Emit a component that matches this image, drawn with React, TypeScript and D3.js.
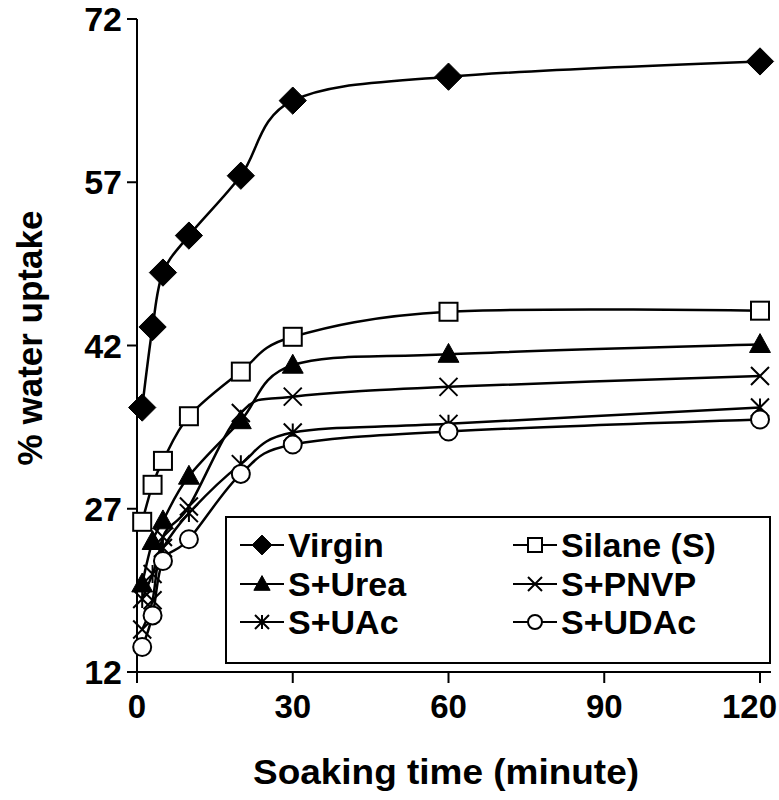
import React from "react";
import * as d3 from "d3";

const times = [1, 3, 5, 10, 20, 30, 60, 120];
const seriesNames = ["Virgin", "Silane (S)", "S+Urea", "S+PNVP", "S+UAc", "S+UDAc"];
const virgin = [36.3, 43.7, 48.7, 52.1, 57.6, 64.5, 66.7, 68.1];
const silane = [25.8, 29.2, 31.4, 35.5, 39.6, 42.8, 45.1, 45.2];
const sUrea = [20.1, 24.0, 25.9, 30.0, 35.1, 40.2, 41.2, 42.1];
const sPNVP = [15.9, 18.6, 24.4, 27.2, 35.8, 37.3, 38.2, 39.2];
const sUAc = [18.7, 21.0, 23.4, 26.6, 31.1, 34.0, 34.8, 36.3];
const sUDAc = [14.3, 17.2, 22.2, 24.2, 30.2, 32.9, 34.1, 35.2];
const markerTypes = ["diamond", "square", "triangle", "x", "asterisk", "circle"];
const xTicks = [0, 30, 60, 90, 120];
const yTicks = [12, 27, 42, 57, 72];

const allSeries = [virgin, silane, sUrea, sPNVP, sUAc, sUDAc];

const FONT = "'Liberation Sans', Arial, sans-serif";

function Marker({ type, x, y, size }: { type: string; x: number; y: number; size: number }) {
  const s = size;
  const sw = 2;
  switch (type) {
    case "diamond":
      return (
        <path
          d={`M${x},${y - s * 0.62} L${x + s * 0.62},${y} L${x},${y + s * 0.62} L${x - s * 0.62},${y} Z`}
          fill="#000"
          stroke="#000"
          strokeWidth={1}
        />
      );
    case "square":
      return (
        <rect x={x - s / 2} y={y - s / 2} width={s} height={s} fill="#fff" stroke="#000" strokeWidth={sw} />
      );
    case "triangle":
      return (
        <path
          d={`M${x},${y - s * 0.6} L${x + s * 0.58},${y + s * 0.45} L${x - s * 0.58},${y + s * 0.45} Z`}
          fill="#000"
          stroke="#000"
          strokeWidth={1}
        />
      );
    case "x":
      return (
        <path
          d={`M${x - s / 2},${y - s / 2} L${x + s / 2},${y + s / 2} M${x - s / 2},${y + s / 2} L${x + s / 2},${y - s / 2}`}
          stroke="#000"
          strokeWidth={sw}
          fill="none"
        />
      );
    case "asterisk":
      return (
        <path
          d={`M${x - s / 2},${y - s / 2} L${x + s / 2},${y + s / 2} M${x - s / 2},${y + s / 2} L${x + s / 2},${y - s / 2} M${x},${y - s / 2} L${x},${y + s / 2}`}
          stroke="#000"
          strokeWidth={sw}
          fill="none"
        />
      );
    case "circle":
      return <circle cx={x} cy={y} r={s / 2} fill="#fff" stroke="#000" strokeWidth={sw} />;
    default:
      return null;
  }
}

export default function App() {
  const W = 779;
  const H = 800;
  const x = d3.scaleLinear().domain([0, 120]).range([137, 760]);
  const y = d3.scaleLinear().domain([12, 72]).range([672, 19]);
  const line = d3
    .line<number>()
    .x((_, i) => x(times[i]))
    .y((d) => y(d))
    .curve(d3.curveCardinal.tension(0));

  const legendX = [262, 535];
  const legendY = [545, 584, 622];

  return (
    <svg width={W} height={H} style={{ position: "absolute", left: 0, top: 0, background: "#fff" }}>
      <rect x={0} y={0} width={W} height={H} fill="#fff" />
      {/* axes */}
      <line x1={x(0)} y1={y(72)} x2={x(0)} y2={672} stroke="#000" strokeWidth={2} />
      <line x1={x(0)} y1={672} x2={771} y2={672} stroke="#000" strokeWidth={2} />
      {yTicks.map((t) => (
        <g key={"yt" + t}>
          <line x1={x(0) - 10} x2={x(0)} y1={y(t)} y2={y(t)} stroke="#000" strokeWidth={2} />
          <text
            x={122}
            y={y(t)}
            dy="0.36em"
            textAnchor="end"
            fontFamily={FONT}
            fontWeight="bold"
            fontSize={34}
          >
            {t}
          </text>
        </g>
      ))}
      {xTicks.map((t, i) => {
        const last = i === xTicks.length - 1;
        return (
          <g key={"xt" + t}>
            <line x1={x(t)} x2={x(t)} y1={672} y2={683} stroke="#000" strokeWidth={2} />
            <text
              x={last ? 777 : x(t)}
              y={718}
              textAnchor={last ? "end" : "middle"}
              fontFamily={FONT}
              fontWeight="bold"
              fontSize={33}
            >
              {t}
            </text>
          </g>
        );
      })}
      <text
        x={446}
        y={784}
        textAnchor="middle"
        fontFamily={FONT}
        fontWeight="bold"
        fontSize={35}
        textLength={386}
        lengthAdjust="spacingAndGlyphs"
      >
        Soaking time (minute)
      </text>
      <text
        transform={`translate(42,338) rotate(-90)`}
        textAnchor="middle"
        fontFamily={FONT}
        fontWeight="bold"
        fontSize={35}
      >
        % water uptake
      </text>

      {/* series */}
      {allSeries.map((s, si) => (
        <g key={"s" + si}>
          <path d={line(s) || ""} fill="none" stroke="#000" strokeWidth={2.5} />
          {s.map((v, i) => (
            <Marker key={i} type={markerTypes[si]} x={x(times[i])} y={y(v)} size={si === 0 ? 22 : 18} />
          ))}
        </g>
      ))}

      {/* legend */}
      <rect x={226} y={517} width={544} height={146} fill="#fff" stroke="#000" strokeWidth={2} />
      {seriesNames.map((name, i) => {
        const col = i % 2;
        const row = Math.floor(i / 2);
        const cx = legendX[col];
        const cy = legendY[row];
        return (
          <g key={"lg" + i}>
            <line x1={cx - 22} x2={cx + 22} y1={cy} y2={cy} stroke="#000" strokeWidth={2} />
            <Marker type={markerTypes[i]} x={cx} y={cy} size={i === 0 ? 16 : 14} />
            <text
              x={cx + 26}
              y={cy}
              dy="0.36em"
              fontFamily={FONT}
              fontWeight="bold"
              fontSize={34}
            >
              {name}
            </text>
          </g>
        );
      })}
    </svg>
  );
}
